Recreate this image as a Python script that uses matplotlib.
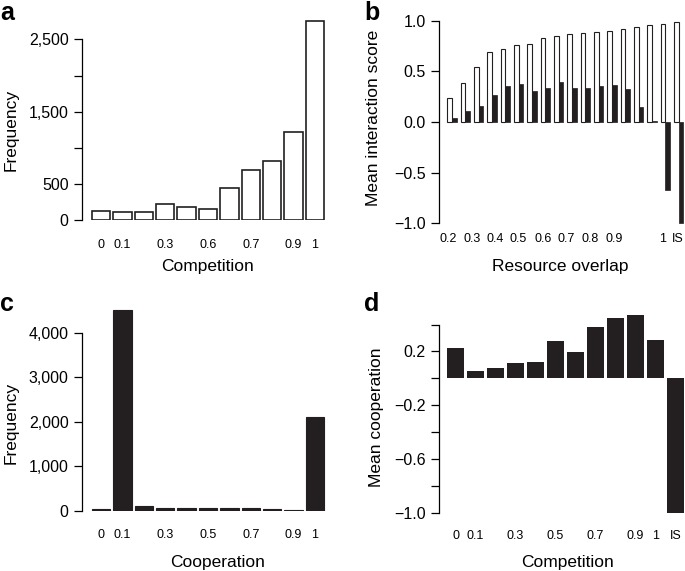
import numpy as np
import matplotlib
matplotlib.use("Agg")
import matplotlib.pyplot as plt

plt.rcParams['font.family'] = ['Liberation Sans', 'DejaVu Sans']

W, H = 685, 571
INK = '#231f20'

# panel a: frequency of competition scores
comp_freq = [129, 110, 110, 230, 180, 161, 451, 700, 824, 1220, 2758]
comp_labels = ['0', '0.1', '', '0.3', '', '0.6', '', '0.7', '', '0.9', '1']

# panel b: mean interaction score vs resource overlap
overlap_comp = [0.24, 0.385, 0.54, 0.69, 0.72, 0.76, 0.77, 0.83, 0.85,
                0.87, 0.88, 0.885, 0.90, 0.92, 0.94, 0.96, 0.97, 0.99]
overlap_coop = [0.036, 0.11, 0.16, 0.27, 0.36, 0.38, 0.31, 0.34, 0.40,
                0.34, 0.34, 0.355, 0.365, 0.33, 0.15, 0.013, -0.67, -1.0]
overlap_ticks = [-0.28, 1.48, 3.23, 4.98, 6.81, 8.6, 10.35, 12.15, 15.8, 16.9]
overlap_labels = ['0.2', '0.3', '0.4', '0.5', '0.6', '0.7', '0.8', '0.9', '1', 'IS']

# panel c: frequency of cooperation scores
coop_freq = [30, 4509, 105, 55, 55, 55, 55, 55, 30, 20, 2097]
coop_labels = ['0', '0.1', '', '0.3', '', '0.5', '', '0.7', '', '0.9', '1']

# panel d: mean cooperation vs competition
mean_coop = [0.222, 0.054, 0.074, 0.116, 0.119, 0.279, 0.195, 0.385,
             0.452, 0.474, 0.284, -1.0]
mean_coop_labels = ['0', '0.1', '', '0.3', '', '0.5', '', '0.7', '', '0.9', '1', 'IS']


def px_axes(fig, left, top, right, bottom):
    return fig.add_axes([left / W, 1 - bottom / H, (right - left) / W, (bottom - top) / H])


def style(ax, ybounds, yticks, yticklabels, xticks, xticklabels, xpad):
    for s in ['top', 'right', 'bottom']:
        ax.spines[s].set_visible(False)
    ax.spines['left'].set_bounds(*ybounds)
    ax.spines['left'].set_linewidth(0.9)
    ax.set_yticks(yticks)
    ax.set_yticklabels(yticklabels)
    ax.tick_params(axis='y', direction='out', length=5.5, width=0.9, pad=4, labelsize=11.5)
    ax.set_xticks(xticks)
    ax.set_xticklabels(xticklabels)
    ax.tick_params(axis='x', length=0, pad=xpad, labelsize=9)


def put_labels(fig, ax, xlab, xpos, ylab, ypos):
    ax.set_xlabel(xlab, fontsize=12.5, va='center')
    ax.xaxis.set_label_coords(xpos[0] / W, 1 - xpos[1] / H, transform=fig.transFigure)
    ax.set_ylabel(ylab, fontsize=12.5, va='center')
    ax.yaxis.set_label_coords(ypos[0] / W, 1 - ypos[1] / H, transform=fig.transFigure)


fig = plt.figure(figsize=(W / 100, H / 100), dpi=100)

# a
ax = px_axes(fig, 81.7, 17.6, 330, 220.3)
x = np.arange(len(comp_freq))
ax.bar(x, comp_freq, width=0.86, color='white', edgecolor=INK, linewidth=1.2)
ax.set_xlim(-0.91, 10.71)
ax.set_ylim(0, 2800)
style(ax, (0, 2500), [0, 500, 1000, 1500, 2000, 2500],
      ['0', '500', '', '1,500', '', '2,500'], x, comp_labels, 13.5)
put_labels(fig, ax, 'Competition', (208, 266), 'Frequency', (11, 130))

# b
ax = px_axes(fig, 439, 16.8, 685, 227.2)
x = np.arange(len(overlap_comp))
ax.bar(x - 0.175, overlap_comp, width=0.35, color='white', edgecolor=INK, linewidth=0.8)
ax.bar(x + 0.175, overlap_coop, width=0.35, color=INK, edgecolor=INK, linewidth=0.5)
ax.set_xlim(-0.975, 17.48)
ax.set_ylim(-1.04, 1.04)
style(ax, (-1, 1), [-1, -0.5, 0, 0.5, 1],
      ['\u22121.0', '\u22120.5', '0.0', '0.5', '1.0'], overlap_ticks, overlap_labels, 4.5)
put_labels(fig, ax, 'Resource overlap', (560, 267), 'Mean interaction score', (374, 118))

# c
ax = px_axes(fig, 81.7, 306, 330, 510.7)
x = np.arange(len(coop_freq))
ax.bar(x, coop_freq, width=0.86, color=INK, edgecolor=INK, linewidth=0.8)
ax.set_xlim(-0.91, 10.71)
ax.set_ylim(0, 4600)
style(ax, (0, 4000), [0, 1000, 2000, 3000, 4000],
      ['0', '1,000', '2,000', '3,000', '4,000'], x, coop_labels, 13.5)
put_labels(fig, ax, 'Cooperation', (218, 562), 'Frequency', (11, 423))

# d
ax = px_axes(fig, 439, 311.1, 685, 518.1)
x = np.arange(len(mean_coop))
ax.bar(x, mean_coop, width=0.88, color=INK, edgecolor='none')
ax.set_xlim(-0.83, 11.47)
ax.set_ylim(-1.04, 0.5)
style(ax, (-1.0, 0.4), [-1.0, -0.8, -0.6, -0.4, -0.2, 0.0, 0.2, 0.4],
      ['\u22121.0', '', '\u22120.6', '', '\u22120.2', '', '0.2', ''], x, mean_coop_labels, 8.5)
put_labels(fig, ax, 'Competition', (567, 562), 'Mean cooperation', (377, 417))

for letter, (lx, ly) in zip('abcd', [(7, 13), (372, 13), (7, 304), (372, 304)]):
    fig.text(lx / W, 1 - ly / H, letter, fontsize=18, fontweight='bold',
             ha='center', va='center')

fig.savefig('out.png', dpi=100)
